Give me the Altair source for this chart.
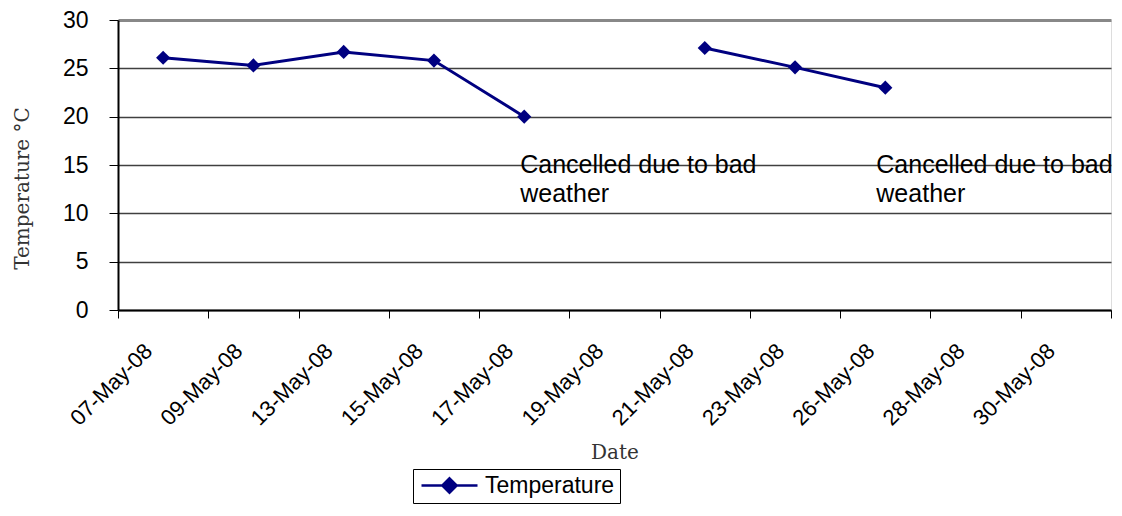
import altair as alt
import pandas as pd

dates = ["07-May-08", "09-May-08", "13-May-08", "15-May-08", "17-May-08",
         "19-May-08", "21-May-08", "23-May-08", "26-May-08", "28-May-08", "30-May-08"]
temps = [26.1, 25.3, 26.7, 25.8, 20.0, None, 27.1, 25.1, 23.0, None, None]
series = ["Temperature"] * len(dates)

note_text = ["Cancelled due to bad", "weather"]
note_dates = ["17-May-08", "26-May-08"]
note_y = [14.2, 14.2]

df = pd.DataFrame({"Date": dates, "Temperature": temps, "Series": series})

navy = "#000080"
sans = "Liberation Sans"
serif = "DejaVu Serif"

x_enc = alt.X(
    "Date:N",
    sort=dates,
    bandPosition=0.5,
    scale=alt.Scale(type="band", domain=dates, paddingInner=0, paddingOuter=0),
    axis=alt.Axis(
        title="Date",
        titleFont=serif, titleFontSize=20, titleFontWeight="normal", titleColor="#333333",
        titleY=142, titleBaseline="middle",
        labelFont=sans, labelFontSize=22, labelColor="black",
        labelAngle=-45, labelAlign="right", labelBaseline="alphabetic",
        labelPadding=34, labelOffset=-10,
        tickBand="extent", tickSize=8, tickColor="black", tickWidth=1,
        domainColor="black", domainWidth=2, grid=False,
    ),
)

y_enc = alt.Y(
    "Temperature:Q",
    scale=alt.Scale(domain=[0, 30], nice=False),
    axis=alt.Axis(
        title="Temperature °C",
        titleFont=serif, titleFontSize=20, titleFontWeight="normal", titleColor="#333333",
        titleAngle=-90, titleX=-96, titleY=168, titleBaseline="middle", titleAlign="center",
        values=[0, 5, 10, 15, 20, 25, 30],
        labelFont=sans, labelFontSize=23, labelColor="black", labelPadding=21,
        tickSize=9, tickColor="black", tickWidth=1,
        domainColor="black", domainWidth=2,
        gridColor={"condition": {"test": "datum.value >= 30", "value": "#888888"}, "value": "#404040"},
        gridWidth={"condition": {"test": "datum.value >= 30", "value": 3}, "value": 1.3},
    ),
)

base = alt.Chart(df)

line = base.mark_line(color=navy, strokeWidth=3).encode(x=x_enc, y=y_enc)

points = base.mark_point(shape="diamond", filled=True, size=200, opacity=1).encode(
    x=x_enc,
    y=y_enc,
    color=alt.Color(
        "Series:N",
        scale=alt.Scale(domain=["Temperature"], range=[navy]),
        legend=alt.Legend(
            title=None,
            orient="none", legendX=295, legendY=449,
            direction="vertical",
            symbolType="M-3.5,0L3.5,0M0,-0.9L0.9,0L0,0.9L-0.9,0Z",
            symbolSize=256, symbolOffset=20,
            symbolStrokeColor=navy, symbolFillColor=navy,
            symbolStrokeWidth=2.5,
            labelFont=sans, labelFontSize=23, labelColor="black", labelOffset=24,
            strokeColor="black", padding=5, fillColor="white",
        ),
    ),
)

notes_df = pd.DataFrame({"Date": note_dates, "y": note_y})
notes_df["text"] = [note_text, note_text]

note1 = alt.Chart(notes_df.iloc[[0]]).mark_text(
    align="left", baseline="alphabetic", font=sans, fontSize=25, lineHeight=29, dx=-4, color="black"
).encode(
    x=alt.X("Date:N", sort=dates, bandPosition=0.5), y=alt.Y("y:Q"), text="text"
)
note2 = alt.Chart(notes_df.iloc[[1]]).mark_text(
    align="left", baseline="alphabetic", font=sans, fontSize=25, lineHeight=29, dx=-9, color="black"
).encode(
    x=alt.X("Date:N", sort=dates, bandPosition=0.5), y=alt.Y("y:Q"), text="text"
)

chart = alt.layer(line, points, note1, note2).properties(
    width=993, height=290,
    autosize=alt.AutoSizeParams(type="none"),
    padding={"left": 110, "top": 12, "right": 3, "bottom": 197},
).configure_view(
    stroke="#888888", strokeWidth=3
).configure(background="white")

chart.save("out.html", embed_options={"renderer": "svg", "actions": False})
